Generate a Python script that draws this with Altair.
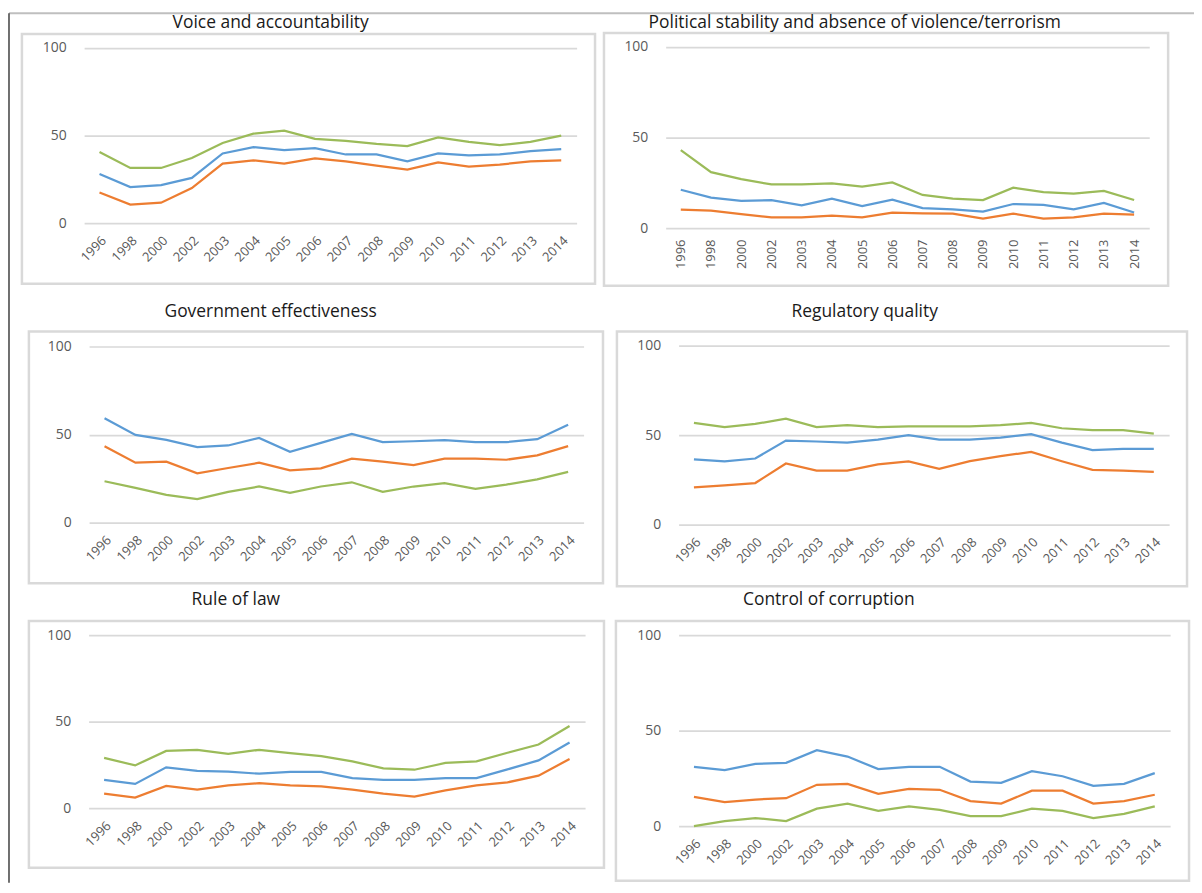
import altair as alt
import pandas as pd

# ---------------- data ----------------
years = ["1996", "1998", "2000", "2002", "2003", "2004", "2005", "2006",
         "2007", "2008", "2009", "2010", "2011", "2012", "2013", "2014"]
series_names = ["Series 1", "Series 2", "Series 3"]
series_colors = ["#5B9BD5", "#ED7D31", "#9BBB59"]
panel_titles = ["Voice and accountability",
                "Political stability and absence of violence/terrorism",
                "Government effectiveness",
                "Regulatory quality",
                "Rule of law",
                "Control of corruption"]
y_ticks = [0, 50, 100]

va_blue = [28.1, 20.6, 21.7, 25.8, 39.8, 43.4, 41.7, 42.8, 39.2, 39.2, 35.3, 39.8, 38.7, 39.2, 41.1, 42.3]
va_orange = [17.5, 10.6, 11.7, 20.0, 34.0, 35.8, 34.0, 37.0, 35.3, 32.8, 30.6, 34.7, 32.3, 33.4, 35.3, 35.8]
va_green = [40.6, 31.5, 31.5, 37.2, 45.8, 51.1, 52.8, 48.1, 47.0, 45.3, 44.0, 48.9, 46.4, 44.5, 46.4, 50.0]

ps_blue = [21.2, 16.8, 15.0, 15.5, 12.6, 16.3, 12.1, 15.7, 11.0, 10.4, 9.1, 13.3, 12.8, 10.4, 13.9, 8.6]
ps_orange = [10.2, 9.7, 7.7, 5.9, 5.9, 6.9, 5.9, 8.6, 8.2, 8.0, 5.3, 8.0, 5.3, 5.9, 8.0, 7.5]
ps_green = [43.1, 30.9, 27.1, 24.1, 24.1, 24.7, 22.9, 25.2, 18.3, 16.3, 15.5, 22.3, 19.9, 19.0, 20.5, 15.5]

ge_blue = [59.2, 49.8, 47.0, 42.9, 43.8, 48.1, 40.2, 45.3, 50.4, 45.7, 46.2, 46.8, 45.7, 45.7, 47.4, 55.6]
ge_orange = [43.4, 34.0, 34.6, 28.0, 31.0, 34.0, 29.7, 30.8, 36.3, 34.6, 32.7, 36.3, 36.3, 35.7, 38.2, 43.4]
ge_green = [23.5, 19.7, 15.8, 13.3, 17.5, 20.5, 16.9, 20.5, 22.9, 17.5, 20.5, 22.4, 19.2, 21.6, 24.6, 28.8]

rq_blue = [36.4, 35.3, 36.9, 46.9, 46.4, 45.8, 47.5, 49.9, 47.5, 47.5, 48.6, 50.5, 45.8, 41.6, 42.3, 42.3]
rq_orange = [20.8, 21.9, 23.2, 34.1, 30.1, 30.1, 33.6, 35.3, 31.2, 35.4, 38.2, 40.6, 35.4, 30.6, 30.1, 29.5]
rq_green = [56.8, 54.4, 56.2, 59.2, 54.4, 55.5, 54.4, 54.9, 54.9, 54.9, 55.5, 56.8, 53.8, 52.7, 52.7, 50.8]

rl_blue = [16.3, 14.0, 23.6, 21.6, 21.1, 19.9, 20.9, 20.9, 17.4, 16.3, 16.3, 17.4, 17.4, 22.4, 27.6, 37.9]
rl_orange = [8.4, 6.1, 12.8, 10.7, 13.2, 14.4, 13.2, 12.6, 10.7, 8.4, 6.7, 10.3, 13.2, 14.9, 18.8, 28.4]
rl_green = [29.1, 24.7, 33.1, 33.7, 31.4, 33.7, 31.8, 30.1, 27.0, 23.0, 22.2, 26.1, 27.0, 32.0, 36.8, 47.5]

cc_blue = [31.0, 29.3, 32.6, 33.1, 39.7, 36.4, 29.8, 31.0, 31.0, 23.3, 22.6, 28.7, 26.1, 21.1, 22.1, 27.7]
cc_orange = [15.3, 12.5, 13.9, 14.6, 21.6, 22.1, 16.9, 19.5, 19.0, 13.1, 11.8, 18.5, 18.5, 11.8, 13.1, 16.4]
cc_green = [0.0, 2.6, 4.2, 2.6, 9.1, 11.8, 8.0, 10.3, 8.5, 5.2, 5.2, 9.1, 8.0, 4.2, 6.4, 10.3]

panel_series = [
    (va_blue, va_orange, va_green),
    (ps_blue, ps_orange, ps_green),
    (ge_blue, ge_orange, ge_green),
    (rq_blue, rq_orange, rq_green),
    (rl_blue, rl_orange, rl_green),
    (cc_blue, cc_orange, cc_green),
]

# ---------------- layout (pixels inside the canvas) ----------------
W, H = 1192, 877
# x range, y range (0 -> 100), frame (x, x2, y, y2), title (x, y), label angle
layout = [
    dict(xr=[76.5, 571.5], yr=[214, 38], frame=(14, 590, 24, 275), title=(264, 13), angle=-45),
    dict(xr=[661, 1147], yr=[219, 37], frame=(599, 1166, 23, 277), title=(851, 13), angle=-90),
    dict(xr=[81.5, 578.5], yr=[515, 338], frame=(21, 598, 323, 576), title=(264, 303), angle=-45),
    dict(xr=[674, 1167], yr=[517, 337], frame=(612, 1185, 323, 579), title=(861, 303), angle=-45),
    dict(xr=[81, 580], yr=[802, 628], frame=(21, 599, 614, 862), title=(229, 593), angle=-45),
    dict(xr=[674, 1168], yr=[820, 628], frame=(611, 1187, 614, 875), title=(825, 593), angle=-45),
]

LABEL_FONT = "Open Sans"
LABEL_COLOR = "#595959"
GRID_COLOR = "#D9D9D9"
FRAME_COLOR = "#D9D9D9"

one = alt.Data(values=[{}])
layers = []

# decorations: top rule and left rule of the page
layers.append(
    alt.Chart(one).mark_rule(color="#BFBFBF", strokeWidth=2).encode(
        x=alt.value(1), x2=alt.value(W), y=alt.value(3), y2=alt.value(3))
)
layers.append(
    alt.Chart(one).mark_rule(color="#404040", strokeWidth=1.5).encode(
        x=alt.value(1), x2=alt.value(1), y=alt.value(3), y2=alt.value(H))
)

for title, cfg in zip(panel_titles, layout):
    fx0, fx1, fy0, fy1 = cfg["frame"]
    layers.append(
        alt.Chart(one).mark_rect(fillOpacity=0, stroke=FRAME_COLOR, strokeWidth=2.5).encode(
            x=alt.value(fx0), x2=alt.value(fx1), y=alt.value(fy0), y2=alt.value(fy1))
    )
    tx, ty = cfg["title"]
    layers.append(
        alt.Chart(one).mark_text(font=LABEL_FONT, fontSize=17.5, color="#1a1a1a",
                                 align="center", baseline="middle").encode(
            x=alt.value(tx), y=alt.value(ty), text=alt.value(title))
    )

for (blue, orange, green), cfg in zip(panel_series, layout):
    rows = []
    for s, vals in zip(series_names, (blue, orange, green)):
        for yr, v in zip(years, vals):
            rows.append({"year": yr, "series": s, "value": v})
    df = pd.DataFrame(rows)
    x0, x1 = cfg["xr"]
    y0, y100 = cfg["yr"]
    line = alt.Chart(df).mark_line(strokeWidth=2.25, clip=False).encode(
        x=alt.X("year:O", sort=years, title=None,
                scale=alt.Scale(type="point", range=[x0, x1], padding=0.5),
                axis=alt.Axis(orient="bottom", offset=y0 - H, labelAngle=cfg["angle"],
                              domain=False, ticks=False, grid=False, labelPadding=11,
                              labelFont=LABEL_FONT, labelFontSize=13, labelColor=LABEL_COLOR,
                              labelOverlap=False, labelFlush=False)),
        y=alt.Y("value:Q", title=None,
                scale=alt.Scale(domain=[0, 100], range=[y0, y100], nice=False, zero=True),
                axis=alt.Axis(orient="left", offset=-x0, values=y_ticks, domain=False, ticks=False,
                              grid=True, gridColor=GRID_COLOR, gridWidth=1.75,
                              labelPadding=18, labelFont=LABEL_FONT, labelFontSize=14,
                              labelColor=LABEL_COLOR, labelOverlap=False, labelFlush=False)),
        color=alt.Color("series:N", scale=alt.Scale(domain=series_names, range=series_colors),
                        legend=None),
        order=alt.Order("year:O"),
    )
    layers.append(line)

chart = alt.layer(*layers).resolve_scale(
    x="independent", y="independent"
).resolve_axis(
    x="independent", y="independent"
).properties(
    width=W, height=H, padding=0,
    autosize=alt.AutoSizeParams(type="none"),
).configure_view(stroke="transparent")

chart.save("out.html", embed_options={"renderer": "svg", "actions": False})
